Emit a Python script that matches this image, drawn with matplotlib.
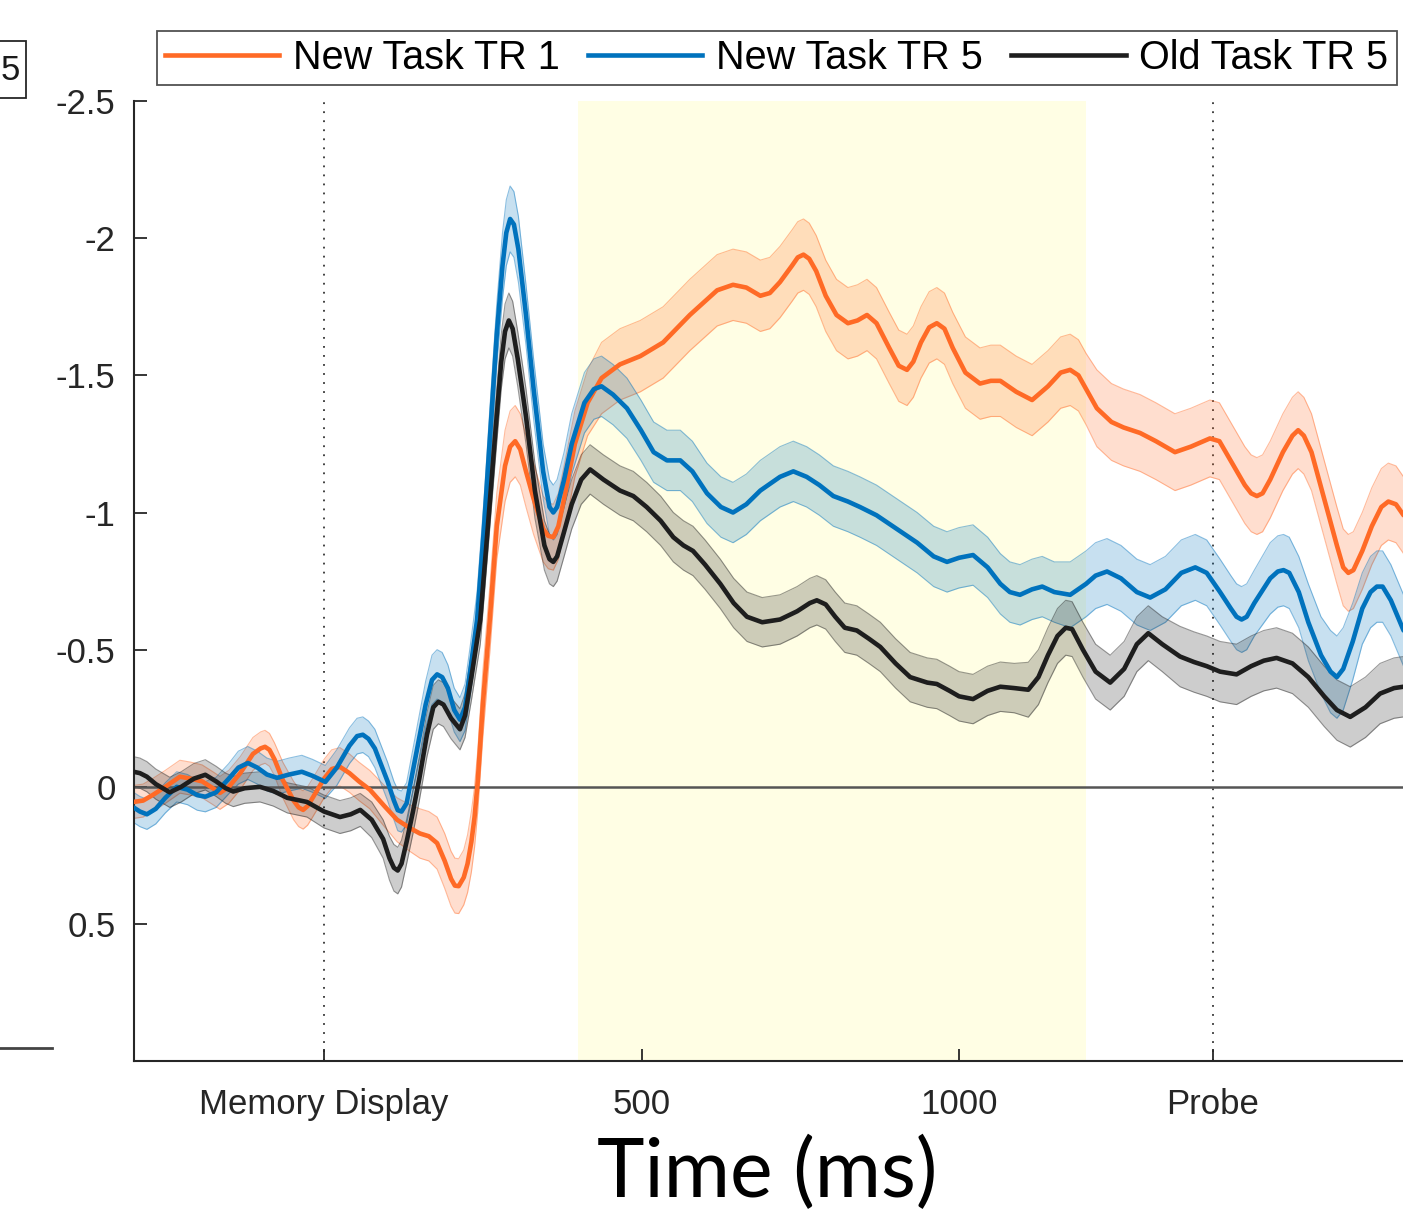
import matplotlib
matplotlib.use('Agg')
import numpy as np
import matplotlib.pyplot as plt
from matplotlib.lines import Line2D
from matplotlib.patches import Rectangle

plt.rcParams['font.family'] = ['Liberation Sans', 'DejaVu Sans']

# New Task TR 1 (orange)
t_new1 = [-300, -285, -270, -250, -227, -210, -192, -175, -164, -150,
          -132, -112, -100, -93, -86, -78, -65, -48, -40, -33,
          -26, -18, 0, 12, 25, 40, 55, 72, 95, 115,
          135, 151, 165, 178, 190, 200, 206, 212, 220, 226,
          232, 237, 242, 250, 261, 272, 285, 293, 301, 309,
          318, 330, 345, 353, 361, 369, 378, 395, 415, 437,
          466, 498, 534, 576, 600, 619, 644, 665, 687, 702,
          718, 737, 746, 755, 764, 775, 790, 807, 825, 840,
          855, 870, 890, 905, 918, 928, 940, 953, 965, 977,
          990, 1010, 1033, 1050, 1065, 1090, 1115, 1140, 1160, 1175,
          1188, 1200, 1217, 1240, 1259, 1285, 1310, 1340, 1365, 1395,
          1410, 1430, 1450, 1460, 1469, 1478, 1490, 1510, 1525, 1534,
          1543, 1555, 1575, 1595, 1605, 1613, 1621, 1635, 1650, 1665,
          1676, 1688, 1700]
new1 = [0.055, 0.05, 0.03, 0.0, -0.037, -0.03, -0.02, 0.005, 0.022, 0.0,
        -0.05, -0.12, -0.14, -0.146, -0.135, -0.10, -0.025, 0.05, 0.075, 0.084,
        0.07, 0.04, -0.03, -0.065, -0.073, -0.05, -0.02, 0.01, 0.07, 0.12,
        0.15, 0.17, 0.18, 0.205, 0.27, 0.335, 0.36, 0.362, 0.33, 0.28,
        0.20, 0.11, -0.02, -0.30, -0.61, -0.95, -1.17, -1.24, -1.26, -1.23,
        -1.15, -1.05, -0.94, -0.915, -0.91, -0.95, -1.05, -1.25, -1.40, -1.49,
        -1.54, -1.57, -1.62, -1.72, -1.77, -1.81, -1.83, -1.82, -1.79, -1.80,
        -1.84, -1.90, -1.93, -1.94, -1.925, -1.88, -1.79, -1.72, -1.69, -1.70,
        -1.72, -1.69, -1.60, -1.535, -1.52, -1.55, -1.62, -1.675, -1.69, -1.67,
        -1.60, -1.51, -1.47, -1.48, -1.48, -1.44, -1.41, -1.46, -1.51, -1.52,
        -1.50, -1.45, -1.38, -1.33, -1.31, -1.29, -1.26, -1.22, -1.24, -1.27,
        -1.26, -1.18, -1.10, -1.07, -1.06, -1.07, -1.12, -1.22, -1.28, -1.30,
        -1.28, -1.22, -1.05, -0.88, -0.80, -0.78, -0.79, -0.86, -0.95, -1.02,
        -1.04, -1.03, -0.99]
new1_sem = [0.06, 0.06, 0.06, 0.06, 0.06, 0.06, 0.06, 0.06, 0.06, 0.06,
            0.06, 0.06, 0.06, 0.06, 0.06, 0.06, 0.065, 0.07, 0.07, 0.07,
            0.07, 0.07, 0.07, 0.07, 0.07, 0.07, 0.07, 0.07, 0.075, 0.08,
            0.085, 0.09, 0.09, 0.095, 0.10, 0.10, 0.10, 0.10, 0.10, 0.105,
            0.11, 0.11, 0.11, 0.12, 0.12, 0.12, 0.13, 0.13, 0.13, 0.13,
            0.13, 0.13, 0.12, 0.12, 0.12, 0.12, 0.12, 0.12, 0.12, 0.13,
            0.13, 0.13, 0.13, 0.13, 0.13, 0.13, 0.13, 0.13, 0.13, 0.13,
            0.13, 0.13, 0.13, 0.13, 0.13, 0.13, 0.13, 0.13, 0.13, 0.13,
            0.13, 0.13, 0.13, 0.13, 0.13, 0.13, 0.13, 0.13, 0.13, 0.13,
            0.13, 0.13, 0.13, 0.13, 0.13, 0.13, 0.13, 0.13, 0.13, 0.13,
            0.13, 0.13, 0.14, 0.14, 0.14, 0.14, 0.14, 0.14, 0.14, 0.14,
            0.14, 0.14, 0.14, 0.14, 0.14, 0.14, 0.14, 0.14, 0.14, 0.14,
            0.14, 0.14, 0.14, 0.14, 0.14, 0.14, 0.14, 0.14, 0.14, 0.14,
            0.14, 0.14, 0.14]

# New Task TR 5 (blue)
t_new5 = [-300, -290, -279, -265, -250, -232, -215, -200, -187, -170,
          -150, -135, -120, -105, -90, -74, -55, -35, -18, 2,
          20, 40, 52, 61, 70, 80, 100, 110, 116, 122,
          130, 145, 160, 170, 178, 186, 195, 205, 214, 222,
          230, 241, 252, 262, 272, 281, 287, 293, 299, 306,
          318, 330, 345, 355, 361, 367, 378, 390, 410, 425,
          437, 455, 477, 499, 519, 540, 561, 580, 603, 625,
          644, 665, 687, 718, 739, 760, 780, 802, 825, 844,
          870, 902, 934, 960, 981, 1000, 1022, 1045, 1065, 1080,
          1096, 1115, 1131, 1150, 1175, 1200, 1215, 1233, 1255, 1280,
          1301, 1325, 1350, 1372, 1390, 1411, 1428, 1437, 1445, 1453,
          1465, 1490, 1502, 1511, 1520, 1535, 1550, 1570, 1585, 1595,
          1605, 1620, 1635, 1648, 1658, 1667, 1680, 1700]
new5 = [0.075, 0.09, 0.10, 0.08, 0.04, 0.0, 0.01, 0.03, 0.036, 0.02,
        -0.03, -0.07, -0.087, -0.07, -0.045, -0.033, -0.045, -0.055, -0.04, -0.018,
        -0.07, -0.15, -0.185, -0.19, -0.175, -0.14, -0.02, 0.05, 0.085, 0.09,
        0.06, -0.12, -0.30, -0.39, -0.41, -0.40, -0.36, -0.28, -0.245, -0.29,
        -0.42, -0.61, -0.95, -1.30, -1.65, -1.90, -2.02, -2.07, -2.05, -1.96,
        -1.72, -1.45, -1.15, -1.02, -1.0, -1.02, -1.12, -1.25, -1.40, -1.45,
        -1.46, -1.43, -1.38, -1.30, -1.22, -1.19, -1.19, -1.15, -1.07, -1.02,
        -1.0, -1.03, -1.08, -1.13, -1.15, -1.13, -1.10, -1.06, -1.04, -1.02,
        -0.99, -0.94, -0.89, -0.84, -0.82, -0.835, -0.845, -0.80, -0.74, -0.71,
        -0.70, -0.72, -0.73, -0.71, -0.70, -0.74, -0.77, -0.785, -0.76, -0.71,
        -0.69, -0.72, -0.78, -0.80, -0.78, -0.71, -0.65, -0.62, -0.61, -0.62,
        -0.67, -0.76, -0.785, -0.79, -0.78, -0.71, -0.60, -0.48, -0.42, -0.40,
        -0.43, -0.53, -0.65, -0.71, -0.73, -0.73, -0.68, -0.57]
new5_sem = [0.055, 0.055, 0.055, 0.055, 0.055, 0.055, 0.055, 0.055, 0.055, 0.055,
            0.055, 0.06, 0.06, 0.06, 0.06, 0.06, 0.06, 0.06, 0.06, 0.06,
            0.065, 0.065, 0.065, 0.065, 0.065, 0.07, 0.07, 0.07, 0.075, 0.075,
            0.075, 0.08, 0.085, 0.09, 0.09, 0.09, 0.085, 0.08, 0.08, 0.085,
            0.09, 0.10, 0.10, 0.11, 0.11, 0.12, 0.12, 0.12, 0.12, 0.12,
            0.11, 0.11, 0.10, 0.10, 0.10, 0.10, 0.10, 0.11, 0.11, 0.11,
            0.11, 0.11, 0.11, 0.11, 0.11, 0.11, 0.11, 0.11, 0.11, 0.11,
            0.11, 0.11, 0.11, 0.11, 0.11, 0.11, 0.11, 0.11, 0.11, 0.11,
            0.11, 0.11, 0.11, 0.11, 0.11, 0.11, 0.11, 0.11, 0.11, 0.11,
            0.11, 0.11, 0.11, 0.11, 0.12, 0.12, 0.12, 0.12, 0.12, 0.12,
            0.12, 0.12, 0.12, 0.12, 0.12, 0.12, 0.12, 0.12, 0.12, 0.12,
            0.12, 0.13, 0.13, 0.13, 0.13, 0.13, 0.14, 0.14, 0.15, 0.15,
            0.15, 0.14, 0.13, 0.13, 0.13, 0.13, 0.13, 0.13]

# Old Task TR 5 (black)
t_old5 = [-300, -290, -279, -265, -243, -225, -205, -187, -170, -155,
          -143, -125, -101, -80, -58, -27, 0, 25, 42, 57,
          75, 93, 103, 110, 116, 122, 130, 140, 150, 162,
          172, 180, 188, 200, 214, 222, 232, 246, 258, 270,
          279, 285, 291, 297, 305, 318, 332, 347, 355, 361,
          367, 378, 390, 405, 419, 440, 466, 487, 508, 530,
          550, 566, 581, 600, 624, 645, 666, 690, 718, 745,
          765, 776, 790, 805, 820, 839, 858, 876, 900, 923,
          950, 965, 985, 1000, 1022, 1045, 1065, 1087, 1109, 1125,
          1140, 1155, 1168, 1178, 1195, 1215, 1238, 1260, 1280, 1298,
          1320, 1348, 1370, 1390, 1411, 1437, 1460, 1480, 1500, 1525,
          1550, 1575, 1595, 1616, 1640, 1663, 1685, 1700]
old5 = [-0.055, -0.05, -0.037, -0.01, 0.02, 0.0, -0.03, -0.044, -0.02, 0.005,
        0.017, 0.005, 0.0, 0.015, 0.04, 0.055, 0.09, 0.11, 0.10, 0.084,
        0.12, 0.19, 0.26, 0.295, 0.305, 0.28, 0.20, 0.09, -0.03, -0.19,
        -0.29, -0.31, -0.30, -0.25, -0.21, -0.26, -0.40, -0.61, -0.95, -1.30,
        -1.55, -1.66, -1.70, -1.67, -1.56, -1.35, -1.08, -0.88, -0.83, -0.82,
        -0.84, -0.93, -1.03, -1.12, -1.157, -1.12, -1.08, -1.06, -1.02, -0.97,
        -0.91, -0.88, -0.86, -0.81, -0.74, -0.67, -0.62, -0.60, -0.61, -0.64,
        -0.67, -0.68, -0.665, -0.62, -0.58, -0.57, -0.54, -0.51, -0.45, -0.40,
        -0.38, -0.375, -0.35, -0.33, -0.32, -0.35, -0.365, -0.36, -0.354, -0.40,
        -0.48, -0.55, -0.58, -0.575, -0.50, -0.42, -0.38, -0.43, -0.52, -0.56,
        -0.52, -0.475, -0.455, -0.44, -0.42, -0.41, -0.44, -0.46, -0.47, -0.45,
        -0.40, -0.33, -0.28, -0.255, -0.29, -0.34, -0.36, -0.365]
old5_sem = [0.055, 0.055, 0.055, 0.055, 0.055, 0.055, 0.055, 0.055, 0.055, 0.055,
            0.055, 0.055, 0.055, 0.055, 0.055, 0.055, 0.06, 0.06, 0.06, 0.06,
            0.065, 0.07, 0.08, 0.085, 0.085, 0.085, 0.08, 0.08, 0.08, 0.08,
            0.08, 0.08, 0.08, 0.075, 0.075, 0.08, 0.085, 0.09, 0.09, 0.10,
            0.10, 0.10, 0.10, 0.10, 0.10, 0.10, 0.10, 0.09, 0.09, 0.09,
            0.09, 0.09, 0.09, 0.09, 0.09, 0.09, 0.09, 0.09, 0.09, 0.09,
            0.09, 0.09, 0.09, 0.09, 0.09, 0.09, 0.09, 0.09, 0.09, 0.09,
            0.09, 0.09, 0.09, 0.09, 0.09, 0.09, 0.09, 0.09, 0.09, 0.09,
            0.09, 0.09, 0.09, 0.09, 0.09, 0.09, 0.09, 0.09, 0.10, 0.10,
            0.10, 0.10, 0.10, 0.10, 0.10, 0.10, 0.10, 0.10, 0.10, 0.10,
            0.10, 0.11, 0.11, 0.11, 0.11, 0.11, 0.11, 0.11, 0.11, 0.11,
            0.11, 0.11, 0.11, 0.11, 0.11, 0.11, 0.11, 0.11]

series = [
    ('New Task TR 1', t_new1, new1, new1_sem, '#FF6A26'),
    ('New Task TR 5', t_new5, new5, new5_sem, '#0072BD'),
    ('Old Task TR 5', t_old5, old5, old5_sem, '#1E1E1E'),
]

fig = plt.figure(figsize=(14.03, 12.11), dpi=100)
ax = fig.add_axes([0.0952, 0.1237, 0.9052, 0.7929])

# retention window
ax.axvspan(400, 1200, color='#FFFEE4', lw=0, zorder=0)
ax.axhline(0, color='#555555', lw=1.8, zorder=2)
for xv in (0, 1400):
    ax.axvline(xv, color='#333333', ls=(0, (1, 4)), lw=1.3, zorder=1)

handles = []
for name, t, y, sem, col in series:
    t = np.array(t)
    y = np.array(y)
    sem = np.array(sem)
    ax.fill_between(t, y - sem, y + sem, color=col, alpha=0.22, lw=0, zorder=1)
    ax.plot(t, y - sem, color=col, lw=0.8, alpha=0.45, zorder=1)
    ax.plot(t, y + sem, color=col, lw=0.8, alpha=0.45, zorder=1)
    ax.plot(t, y, color=col, lw=3.3, zorder=3, solid_capstyle='round', solid_joinstyle='round')
    handles.append(Line2D([], [], color=col, lw=3.3))

ax.set_xlim(-300, 1700)
ax.set_ylim(1.0, -2.5)
ax.set_yticks([-2.5, -2, -1.5, -1, -0.5, 0, 0.5])
ax.set_yticklabels(['-2.5', '-2', '-1.5', '-1', '-0.5', '0', '0.5'])
ax.set_xticks([0, 500, 1000, 1400])
ax.set_xticklabels(['Memory Display', '500', '1000', 'Probe'])

for s in ('top', 'right'):
    ax.spines[s].set_visible(False)
for s in ('left', 'bottom'):
    ax.spines[s].set_color('#262626')
    ax.spines[s].set_linewidth(1.5)
ax.tick_params(axis='both', direction='in', length=9, width=1.3, colors='#262626', labelsize=25)
ax.tick_params(axis='y', pad=13)
ax.tick_params(axis='x', pad=19)

leg = fig.legend(handles, [s[0] for s in series], loc='center', bbox_to_anchor=(0.5535, 0.9521),
                 bbox_transform=fig.transFigure, ncol=3, fontsize=28.5, frameon=True, fancybox=False,
                 edgecolor='#262626', handlelength=2.9, handletextpad=0.35, columnspacing=0.7,
                 borderpad=0.2, borderaxespad=0)
leg.get_frame().set_linewidth(1.3)

fig.text(767 / 1403, 1 - 1197 / 1211, 'Time (ms)', family=['Lato', 'DejaVu Sans'], fontsize=58,
         ha='center', va='baseline', color='black')

# leftovers of the neighbouring panel
fig.patches.append(Rectangle((-10 / 1403, 1 - 98 / 1211), 36 / 1403, 57 / 1211, transform=fig.transFigure,
                             fill=False, edgecolor='#262626', lw=1.3))
fig.text(20 / 1403, 1 - 70 / 1211, '5', fontsize=25, ha='right', va='center', color='#1a1a1a')
fig.lines.append(Line2D([0, 52 / 1403], [1 - 1048 / 1211, 1 - 1048 / 1211], transform=fig.transFigure,
                        color='#444444', lw=2))

fig.savefig('out.png', dpi=100)
